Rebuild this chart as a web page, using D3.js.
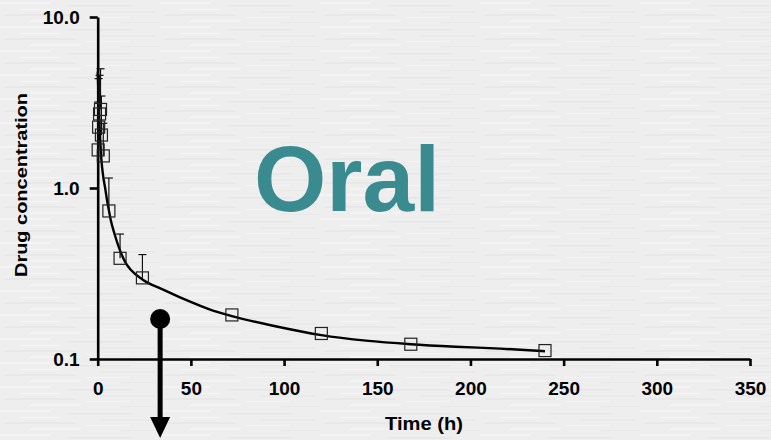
<!DOCTYPE html>
<html>
<head>
<meta charset="utf-8">
<script src="https://cdn.jsdelivr.net/npm/d3@7/dist/d3.min.js"></script>
<style>
  html, body { margin: 0; padding: 0; background: #eeeeee; }
  svg { display: block; font-family: "Liberation Sans", Arial, sans-serif; }
</style>
</head>
<body>
<svg id="chart" width="771" height="440"></svg>
<script>
// Observed mean concentrations (with upper SD) after oral dosing
const obsTime = [0.25, 0.5, 1, 1.5, 2, 3, 6, 12, 24, 72, 120, 168, 240];
const obsConc = [1.67, 2.27, 2.71, 2.88, 2.04, 1.54, 0.734, 0.388, 0.298, 0.181, 0.141, 0.122, 0.112];
const obsSD   = [1.51, 2.09, 1.85, 2.10, 1.41, 0.85, 0.41, 0.15, 0.11, 0, 0, 0, 0];

// Model-fitted curve
const fitTime = [0, 1, 2, 3, 4, 5, 6, 7, 9, 12, 15, 18, 24, 36, 48, 60, 72, 96, 120, 144, 168, 192, 216, 240];
const fitConc = [4.8, 2.3, 1.46, 1.16, 1.0, 0.85, 0.74, 0.65, 0.54, 0.43, 0.365, 0.33, 0.292, 0.252, 0.22, 0.195, 0.178, 0.155, 0.138, 0.128, 0.122, 0.118, 0.115, 0.111];

// Axis ticks
const xTicks = [0, 50, 100, 150, 200, 250, 300, 350];
const yTicks = [0.1, 1, 10];

const svg = d3.select("#chart");

// Brushed-grey backdrop made of faint horizontal streaks
const defs = svg.append("defs");
const pat = defs.append("pattern")
  .attr("id", "streaks").attr("patternUnits", "userSpaceOnUse")
  .attr("width", 160).attr("height", 24);
pat.append("rect").attr("width", 160).attr("height", 24).attr("fill", "#eeeeee");
const streaks = [
  [0, 2, 50, 2, "#f4f4f4"], [70, 5, 60, 2, "#e8e8e8"], [20, 9, 40, 1, "#f5f5f5"],
  [100, 11, 55, 2, "#e9e9e9"], [5, 14, 70, 2, "#e8e8e8"], [85, 17, 45, 1, "#f4f4f4"],
  [30, 20, 50, 2, "#f3f3f3"], [120, 22, 40, 1, "#e8e8e8"]
];
streaks.forEach(s => pat.append("rect")
  .attr("x", s[0]).attr("y", s[1]).attr("width", s[2]).attr("height", s[3]).attr("fill", s[4]));
svg.append("rect").attr("width", 771).attr("height", 440).attr("fill", "url(#streaks)");

const x = d3.scaleLinear().domain([0, 350]).range([97.7, 750]);
const y = d3.scaleLog().domain([0.1, 10]).range([359, 17]);

// Big route label
svg.append("text")
  .attr("x", 254).attr("y", 211)
  .attr("font-size", 93).attr("font-weight", "bold")
  .attr("fill", "#3a8b90")
  .text("Oral");

// Axes
const xAxis = d3.axisBottom(x).tickValues(xTicks).tickFormat(d3.format("d"))
  .tickSizeInner(7).tickSizeOuter(0).tickPadding(16);
const gx = svg.append("g").attr("transform", `translate(0,${y(0.1)})`).call(xAxis);

const yAxis = d3.axisLeft(y).tickValues(yTicks).tickFormat(d3.format(".1f"))
  .tickSizeInner(8).tickSizeOuter(0).tickPadding(10);
const gy = svg.append("g").attr("transform", `translate(${x(0)},0)`).call(yAxis);

[gx, gy].forEach(g => {
  g.select(".domain").attr("stroke", "#000").attr("stroke-width", 2.6);
  g.selectAll(".tick line").attr("stroke", "#000").attr("stroke-width", 2.6);
  g.selectAll(".tick text").attr("fill", "#000").attr("font-size", 19)
    .attr("font-weight", "bold").attr("font-family", "Liberation Sans, Arial, sans-serif");
});

// Axis titles
svg.append("text")
  .attr("x", 424).attr("y", 430).attr("text-anchor", "middle")
  .attr("font-size", 18).attr("font-weight", "bold")
  .attr("textLength", 78).attr("lengthAdjust", "spacingAndGlyphs")
  .text("Time (h)");
svg.append("text")
  .attr("transform", "translate(27,185) rotate(-90)")
  .attr("text-anchor", "middle")
  .attr("font-size", 17).attr("font-weight", "bold")
  .attr("textLength", 184).attr("lengthAdjust", "spacingAndGlyphs")
  .text("Drug concentration");

// Fitted curve
const fitData = fitTime.map((t, i) => ({ t, c: fitConc[i] }));
svg.append("path")
  .datum(fitData)
  .attr("fill", "none").attr("stroke", "#000").attr("stroke-width", 2.4)
  .attr("d", d3.line().x(d => x(d.t)).y(d => y(d.c)).curve(d3.curveMonotoneX));

// Observed points with upper error bars
const obs = obsTime.map((t, i) => ({ t, c: obsConc[i], sd: obsSD[i] }));
const eb = svg.append("g").attr("stroke", "#111").attr("stroke-width", 1.2);
obs.filter(d => d.sd > 0).forEach(d => {
  const cx = x(d.t), top = y(d.c + d.sd);
  eb.append("line").attr("x1", cx).attr("x2", cx).attr("y1", y(d.c)).attr("y2", top);
  eb.append("line").attr("x1", cx - 4).attr("x2", cx + 4).attr("y1", top).attr("y2", top);
});

const sq = 12;
svg.append("g").selectAll("rect").data(obs).join("rect")
  .attr("x", d => x(d.t) - sq / 2).attr("y", d => y(d.c) - sq / 2)
  .attr("width", sq).attr("height", sq)
  .attr("fill", "none").attr("stroke", "#222").attr("stroke-width", 1.2);

// Downward pointer below the curve
const ax = x(33.5);
const arrow = svg.append("g");
arrow.append("line").attr("x1", ax).attr("x2", ax).attr("y1", 319).attr("y2", 420)
  .attr("stroke", "#000").attr("stroke-width", 5);
arrow.append("circle").attr("cx", ax).attr("cy", 319).attr("r", 10).attr("fill", "#000");
arrow.append("path")
  .attr("d", `M${ax - 10},417 L${ax + 10},417 L${ax},438 Z`).attr("fill", "#000");
</script>
</body>
</html>
